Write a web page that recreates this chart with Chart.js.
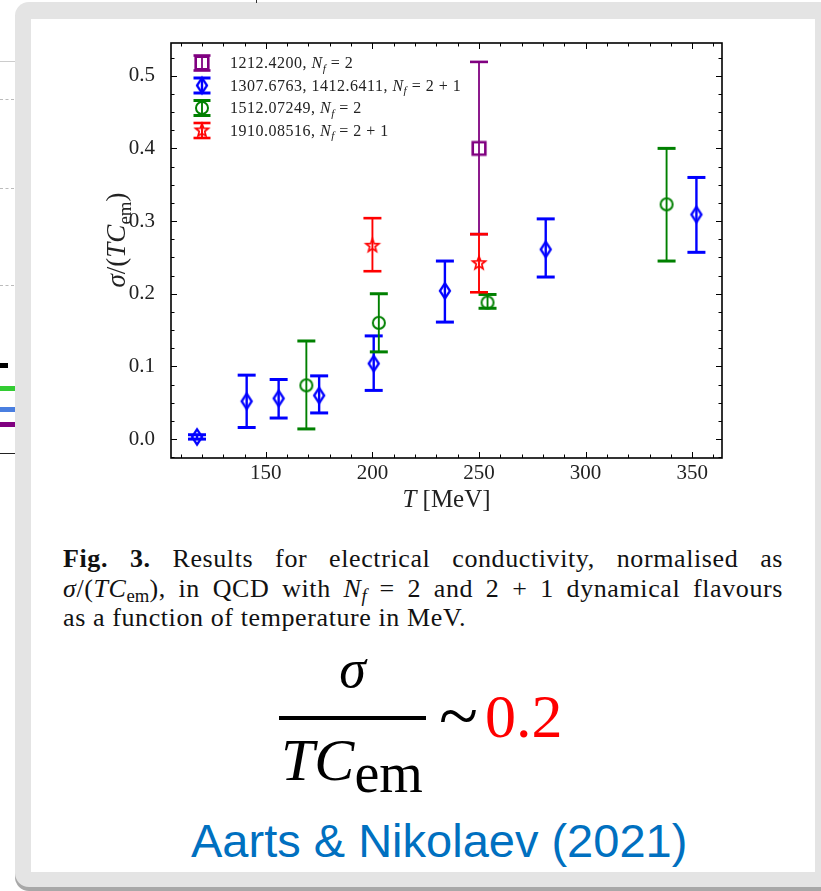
<!DOCTYPE html>
<html>
<head>
<meta charset="utf-8">
<script src="https://cdn.jsdelivr.net/npm/chart.js@4.4.0/dist/chart.umd.min.js"></script>
<style>
  html, body { margin: 0; padding: 0; background: #fff; width: 821px; height: 891px; overflow: hidden; position: relative; font-family: "Liberation Serif", serif; }
  .abs { position: absolute; }
  .frame { left: 15px; top: 2px; width: 840px; height: 885px; background: #e4e4e4; border-radius: 14px; box-shadow: 0 4px 0 #a8a8a8; }
  .panel { left: 31px; top: 19px; width: 784px; height: 853px; background: #fff; }
  .cap { left: 63px; width: 720px; top: 544px; font-size: 26px; line-height: 29.5px; letter-spacing: 0.6px; color: #111; }
  .cap div { text-align: justify; text-align-last: justify; white-space: nowrap; }
  .cap div.last { text-align-last: left; }
  .cap sub { font-size: 0.72em; vertical-align: -0.25em; line-height: 0; letter-spacing: 0; }
  .m { line-height: 1; white-space: nowrap; color: #000; }
  #chart { position: absolute; left: 0; top: 0; }
</style>
</head>
<body>
<div class="abs frame"></div>
<div class="abs panel"></div>

<!-- bits of the neighbouring slide on the left -->
<div class="abs" style="left:0;top:61px;width:15px;height:1px;background:#ccc"></div>
<div class="abs" style="left:0;top:99px;width:14px;border-top:1px dashed #bbb"></div>
<div class="abs" style="left:0;top:188px;width:14px;border-top:1px dashed #bbb"></div>
<div class="abs" style="left:0;top:285px;width:14px;border-top:1px dashed #bbb"></div>
<div class="abs" style="left:0;top:363px;width:8px;height:5px;background:#000"></div>
<div class="abs" style="left:0;top:386px;width:15px;height:5px;background:#33cc33"></div>
<div class="abs" style="left:0;top:407px;width:15px;height:5px;background:#4a7fe0"></div>
<div class="abs" style="left:0;top:422px;width:15px;height:5px;background:#800080"></div>
<div class="abs" style="left:0;top:453px;width:15px;height:1px;background:#222"></div>
<div class="abs" style="left:256px;top:0;width:1px;height:3px;background:#333"></div>

<canvas id="chart" width="821" height="530"></canvas>

<div class="abs cap">
  <div><b>Fig. 3.</b> Results for electrical conductivity, normalised as</div>
  <div><i>σ</i>/(<i>TC</i><sub>em</sub>), in QCD with <i>N<sub>f</sub></i> = 2 and 2 + 1 dynamical flavours</div>
  <div class="last">as a function of temperature in MeV.</div>
</div>

<div class="abs m" style="left:279px;width:147px;top:642px;text-align:center;font-size:54px;font-style:italic">σ</div>
<div class="abs" style="left:279px;top:716px;width:147px;height:3.5px;background:#000"></div>
<div class="abs m" style="left:281px;top:730px;font-size:60px"><i>TC</i><span style="font-size:56px;position:relative;top:12px">em</span></div>
<div class="abs m" style="left:439px;top:680px;font-size:72px">~</div>
<div class="abs m" style="left:485px;top:685px;font-size:62px;color:#ff0000">0.2</div>
<div class="abs m" style="left:191px;top:817px;font-family:'Liberation Sans',Arial,sans-serif;font-size:47px;color:#0070c0">Aarts &amp; Nikolaev (2021)</div>

<script>
// T [MeV], sigma/(T C_em) and error-bar bounds
const purpleT = [250];
const purpleS = [0.400];
const purpleLo = [0.282];
const purpleHi = [0.519];

const blueT = [117.7, 141, 156, 175, 200.6, 234, 281.3, 352];
const blueS = [0.003, 0.052, 0.056, 0.060, 0.104, 0.204, 0.261, 0.309];
const blueLo = [0.000, 0.016, 0.029, 0.036, 0.067, 0.161, 0.223, 0.257];
const blueHi = [0.006, 0.088, 0.082, 0.087, 0.142, 0.245, 0.303, 0.360];

const greenT = [169, 203, 254, 338];
const greenS = [0.074, 0.160, 0.188, 0.323];
const greenLo = [0.014, 0.120, 0.180, 0.245];
const greenHi = [0.135, 0.200, 0.199, 0.400];

const redT = [200, 250];
const redS = [0.266, 0.242];
const redLo = [0.231, 0.202];
const redHi = [0.304, 0.282];

const seriesRefs = ["1212.4200", "1307.6763, 1412.6411", "1512.07249", "1910.08516"];
const seriesNf = ["2", "2 + 1", "2", "2 + 1"];

const xTicks = [150, 200, 250, 300, 350];
const yTicks = [0.0, 0.1, 0.2, 0.3, 0.4, 0.5];

const SERIF = "'Liberation Serif', 'Times New Roman', serif";

// hollow markers, matplotlib style
function markerImg(kind, color) {
  const c = document.createElement("canvas");
  c.width = 24;
  c.height = 24;
  const g = c.getContext("2d");
  g.translate(12, 12);
  g.strokeStyle = color;
  g.beginPath();
  if (kind === "square") {
    g.lineWidth = 2.6;
    g.rect(-6.3, -6.3, 12.6, 12.6);
  } else if (kind === "diamond") {
    g.lineWidth = 2.3;
    g.moveTo(0, -7.6);
    g.lineTo(5, 0);
    g.lineTo(0, 7.6);
    g.lineTo(-5, 0);
    g.closePath();
  } else if (kind === "circle") {
    g.lineWidth = 2;
    g.arc(0, 0, 6, 0, Math.PI * 2);
  } else {
    g.lineWidth = 1.7;
    for (let k = 0; k < 10; k++) {
      const r = k % 2 ? 2.9 : 6.8;
      const a = -Math.PI / 2 + (k * Math.PI) / 5;
      if (k === 0) g.moveTo(r * Math.cos(a), r * Math.sin(a));
      else g.lineTo(r * Math.cos(a), r * Math.sin(a));
    }
    g.closePath();
  }
  g.stroke();
  return c;
}

function pts(T, S) {
  return T.map((t, i) => ({ x: t, y: S[i] }));
}

const datasets = [
  { color: "#800080", kind: "square", T: purpleT, S: purpleS, lo: purpleLo, hi: purpleHi, barW: 1.8, capW: 2.6, capHalf: 9 },
  { color: "#0000ff", kind: "diamond", T: blueT, S: blueS, lo: blueLo, hi: blueHi, barW: 2.4, capW: 3, capHalf: 9 },
  { color: "#008000", kind: "circle", T: greenT, S: greenS, lo: greenLo, hi: greenHi, barW: 1.9, capW: 3, capHalf: 9 },
  { color: "#ff0000", kind: "star", T: redT, S: redS, lo: redLo, hi: redHi, barW: 1.9, capW: 2.6, capHalf: 9 },
].map((d, i) => ({
  label: seriesRefs[i],
  data: pts(d.T, d.S),
  pointStyle: markerImg(d.kind, d.color),
  pointRadius: 8,
  borderColor: d.color,
  backgroundColor: "transparent",
  showLine: false,
  lo: d.lo,
  hi: d.hi,
  barW: d.barW,
  capW: d.capW,
  capHalf: d.capHalf,
}));

function hline(ctx, x1, x2, y) {
  ctx.beginPath();
  ctx.moveTo(x1, y);
  ctx.lineTo(x2, y);
  ctx.stroke();
}
function vline(ctx, x, y1, y2) {
  ctx.beginPath();
  ctx.moveTo(x, y1);
  ctx.lineTo(x, y2);
  ctx.stroke();
}

const errorBars = {
  id: "errorBars",
  beforeDatasetsDraw(chart) {
    const { ctx, scales } = chart;
    chart.data.datasets.forEach((ds) => {
      ctx.save();
      ctx.strokeStyle = ds.borderColor;
      ds.data.forEach((p, i) => {
        const px = scales.x.getPixelForValue(p.x);
        const top = scales.y.getPixelForValue(ds.hi[i]);
        const bot = scales.y.getPixelForValue(ds.lo[i]);
        ctx.lineWidth = ds.barW;
        vline(ctx, px, top, bot);
        ctx.lineWidth = ds.capW;
        hline(ctx, px - ds.capHalf, px + ds.capHalf, top);
        hline(ctx, px - ds.capHalf, px + ds.capHalf, bot);
      });
      ctx.restore();
    });
  },
};

// draws runs of [text, italic, subscript]
function drawRuns(ctx, runs, x, y, size) {
  runs.forEach(([t, it, sub]) => {
    const s = sub ? size * 0.7 : size;
    ctx.font = (it ? "italic " : "") + s + "px " + SERIF;
    ctx.fillText(t, x, y + (sub ? size * 0.22 : 0));
    x += ctx.measureText(t).width;
  });
  return x;
}
function runsWidth(ctx, runs, size) {
  let w = 0;
  runs.forEach(([t, it, sub]) => {
    const s = sub ? size * 0.7 : size;
    ctx.font = (it ? "italic " : "") + s + "px " + SERIF;
    w += ctx.measureText(t).width;
  });
  return w;
}

const frameDeco = {
  id: "frameDeco",
  afterDraw(chart) {
    const { ctx, chartArea: a, scales } = chart;
    ctx.save();
    ctx.strokeStyle = "#000";
    ctx.lineWidth = 1.6;
    ctx.strokeRect(a.left, a.top, a.right - a.left, a.bottom - a.top);

    // inward ticks on all four sides
    ctx.lineWidth = 1;
    for (let v = 110; v <= 360; v += 10) {
      const px = Math.round(scales.x.getPixelForValue(v)) + 0.5;
      const len = xTicks.includes(v) ? 6 : 3.5;
      vline(ctx, px, a.bottom, a.bottom - len);
      vline(ctx, px, a.top, a.top + len);
    }
    for (let k = -1; k <= 21; k++) {
      const v = k * 0.025;
      const py = Math.round(scales.y.getPixelForValue(v)) + 0.5;
      if (py < a.top || py > a.bottom) continue;
      const len = k % 4 === 0 ? 6 : 3.5;
      hline(ctx, a.left, a.left + len, py);
      hline(ctx, a.right, a.right - len, py);
    }

    // axis titles
    ctx.fillStyle = "#222";
    ctx.textAlign = "left";
    ctx.textBaseline = "alphabetic";
    const xr = [["T", true], [" [MeV]", false]];
    const xw = runsWidth(ctx, xr, 25);
    drawRuns(ctx, xr, (a.left + a.right) / 2 - xw / 2, 507, 25);

    const yr = [["σ", true], ["/(", false], ["TC", true], ["em", false, true], [")", false]];
    const yw = runsWidth(ctx, yr, 27);
    ctx.save();
    ctx.translate(125, 240);
    ctx.rotate(-Math.PI / 2);
    drawRuns(ctx, yr, -yw / 2, 0, 27);
    ctx.restore();

    // legend
    ctx.letterSpacing = "0.5px";
    chart.data.datasets.forEach((ds, i) => {
      const cy = 63 + i * 22.5;
      const cx = 202;
      ctx.strokeStyle = ds.borderColor;
      ctx.lineWidth = ds.barW;
      vline(ctx, cx, cy - 7.5, cy + 7.5);
      ctx.lineWidth = ds.capW;
      hline(ctx, cx - 8.5, cx + 8.5, cy - 7.5);
      hline(ctx, cx - 8.5, cx + 8.5, cy + 7.5);
      const img = ds.pointStyle;
      ctx.drawImage(img, cx - img.width / 2, cy - img.height / 2);
      ctx.fillStyle = "#222";
      drawRuns(ctx, [[ds.label + ", ", false], ["N", true], ["f", true, true], [" = " + seriesNf[i], false]], 230, cy + 5, 16);
    });
    ctx.restore();
  },
};

const tickFont = { family: SERIF, size: 21 };

new Chart(document.getElementById("chart"), {
  type: "scatter",
  data: { datasets: datasets },
  options: {
    responsive: false,
    animation: false,
    devicePixelRatio: 1,
    layout: { padding: { left: 111, top: 43, right: 99, bottom: 32 } },
    plugins: {
      legend: { display: false },
      tooltip: { enabled: false },
    },
    scales: {
      x: {
        type: "linear",
        min: 105.5,
        max: 364,
        grid: { display: false, drawTicks: false },
        border: { display: false },
        afterBuildTicks: (s) => {
          s.ticks = xTicks.map((v) => ({ value: v }));
        },
        afterFit: (s) => {
          s.height = 40;
        },
        ticks: { padding: 3, color: "#222", font: tickFont, maxRotation: 0, callback: (v) => String(v) },
      },
      y: {
        type: "linear",
        min: -0.026,
        max: 0.545,
        grid: { display: false },
        border: { display: false },
        afterBuildTicks: (s) => {
          s.ticks = yTicks.map((v) => ({ value: v }));
        },
        afterFit: (s) => {
          s.width = 60;
        },
        ticks: { padding: 8, color: "#222", font: tickFont, callback: (v) => v.toFixed(1) },
      },
    },
  },
  plugins: [errorBars, frameDeco],
});
</script>
</body>
</html>
